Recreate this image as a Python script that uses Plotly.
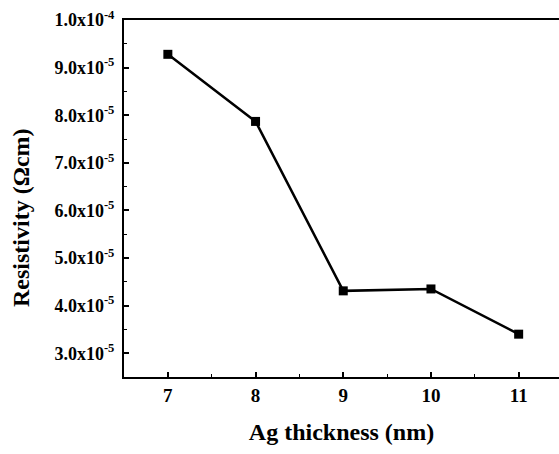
import plotly.graph_objects as go

thickness_nm = [7, 8, 9, 10, 11]
resistivity = [9.28e-5, 7.87e-5, 4.31e-5, 4.35e-5, 3.40e-5]

y_tick_vals = [3.0e-5, 4.0e-5, 5.0e-5, 6.0e-5, 7.0e-5, 8.0e-5, 9.0e-5, 1.0e-4]
y_tick_text = ["3.0x10<sup>-5</sup>", "4.0x10<sup>-5</sup>", "5.0x10<sup>-5</sup>",
               "6.0x10<sup>-5</sup>", "7.0x10<sup>-5</sup>", "8.0x10<sup>-5</sup>",
               "9.0x10<sup>-5</sup>", "1.0x10<sup>-4</sup>"]
x_tick_vals = [7, 8, 9, 10, 11]
x_tick_text = ["7", "8", "9", "10", "11"]

x_title = "Ag thickness (nm)"
y_title = "Resistivity (Ωcm)"

FONT = "Liberation Serif"

fig = go.Figure()
fig.add_trace(go.Scatter(
    x=thickness_nm, y=resistivity, mode="lines+markers",
    line=dict(color="black", width=2.5),
    marker=dict(symbol="square", size=9, color="black"),
    showlegend=False,
))

fig.update_layout(
    width=559, height=454,
    margin=dict(l=124, r=0, t=20, b=77),
    paper_bgcolor="white", plot_bgcolor="white",
    font=dict(family=FONT, color="black"),
    xaxis=dict(
        range=[6.5, 11.46], automargin=False,
        tickvals=x_tick_vals, ticktext=x_tick_text,
        ticks="inside", ticklen=5, tickwidth=1.5, tickcolor="black",
        minor=dict(dtick=0.5, tick0=6.5, ticks="inside", ticklen=3, tickwidth=1, tickcolor="black"),
        showline=True, linecolor="black", linewidth=2, mirror=True,
        showgrid=False, zeroline=False,
        tickfont=dict(family=FONT, size=19, color="black", weight="bold"),
        title=dict(text=x_title, font=dict(family=FONT, size=24, color="black", weight="bold"), standoff=18),
    ),
    yaxis=dict(
        range=[2.5e-5, 1.0001e-4], automargin=False,
        tickvals=y_tick_vals, ticktext=y_tick_text,
        ticks="inside", ticklen=5, tickwidth=1.5, tickcolor="black",
        minor=dict(dtick=0.5e-5, tick0=2.5e-5, ticks="inside", ticklen=3, tickwidth=1, tickcolor="black"),
        showline=True, linecolor="black", linewidth=2,
        showgrid=False, zeroline=False, ticklabelstandoff=4,
        tickfont=dict(family=FONT, size=18, color="black", weight="bold"),
    ),
    annotations=[dict(
        text=y_title, xref="paper", yref="paper", x=-0.237, y=0.448,
        xanchor="center", yanchor="middle", textangle=-90, showarrow=False,
        font=dict(family=FONT, size=24, color="black", weight="bold"),
    )],
)

fig.write_html(
    "out.html",
    config={"displayModeBar": False},
    post_script="document.body.style.margin='0';document.body.style.overflow='hidden';",
)
